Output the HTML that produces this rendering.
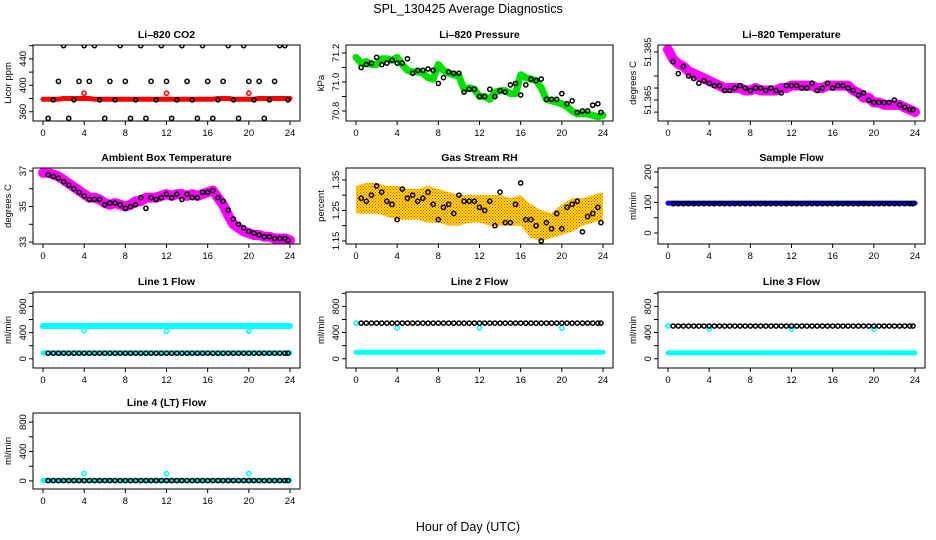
<!DOCTYPE html>
<html><head><meta charset="utf-8">
<style>
html,body{margin:0;padding:0;background:#fff;}
svg{display:block;font-family:"Liberation Sans",Arial,sans-serif;}
</style></head>
<body>
<svg id="chart" width="936" height="540" viewBox="0 0 936 540">
<defs>
<pattern id="rhpat" width="3" height="3" patternUnits="userSpaceOnUse">
<rect width="3" height="3" fill="#ffe000"/><rect x="0" y="0" width="1" height="1" fill="#f03000"/><rect x="1.5" y="1.5" width="1" height="1" fill="#f03000"/>
</pattern>
</defs>
<text x="468" y="13" text-anchor="middle" font-size="12.5">SPL_130425  Average Diagnostics</text>
<text x="468" y="531" text-anchor="middle" font-size="12.5">Hour of Day (UTC)</text>
</svg>
<script>
const HOURS=[0.5,1,1.5,2,2.5,3,3.5,4,4.5,5,5.5,6,6.5,7,7.5,8,8.5,9,9.5,10,10.5,11,11.5,12,12.5,13,13.5,14,14.5,15,15.5,16,16.5,17,17.5,18,18.5,19,19.5,20,20.5,21,21.5,22,22.5,23,23.5,23.8];
const DENSE_T=[0,0.5,1,1.5,2,2.5,3,3.5,4,4.5,5,5.5,6,6.5,7,7.5,8,8.5,9,9.5,10,10.5,11,11.5,12,12.5,13,13.5,14,14.5,15,15.5,16,16.5,17,17.5,18,18.5,19,19.5,20,20.5,21,21.5,22,22.5,23,23.5,24];
const HOURLY_T=[0,1,2,3,4,5,6,7,8,9,10,11,12,13,14,15,16,17,18,19,20,21,22,23,24];
const DIP_T=[4,12,20];
const X_TICKS=[0,4,8,12,16,20,24];

const co2Black=[350,378,406,460,350,378,406,460,406,460,378,350,406,378,460,406,350,378,460,350,406,378,460,406,350,378,460,406,378,350,460,406,350,378,406,460,378,350,460,406,378,406,350,378,406,460,460,378];
const co2Red=[379,379,379,379,380,380,380,380,380,380,379,379,379,379,379,379,379,379,379,379,379,379,379,379,379,379,379,379,379,379,379,379,379,379,380,380,380,379,379,379,379,379,380,380,380,380,380,380,380];
const co2RedDips=[388,388,388];

const presGreen=[71.17,71.13,71.14,71.12,71.12,71.16,71.16,71.15,71.17,71.12,71.08,71.07,71.07,71.06,71.03,71.02,71.12,71.08,71.06,71.05,71.04,70.95,70.96,70.95,70.90,70.90,70.88,70.93,70.94,70.94,70.92,70.92,71.05,71.03,71.02,71.01,70.96,70.88,70.87,70.86,70.85,70.83,70.80,70.78,70.78,70.78,70.77,70.76,70.77];
const presBlack=[71.10,71.12,71.13,71.17,71.12,71.13,71.15,71.13,71.13,71.16,71.06,71.08,71.08,71.09,71.08,70.99,71.03,71.07,71.06,71.06,70.93,70.95,70.95,70.90,70.90,70.95,70.90,70.94,70.93,70.98,70.99,70.91,70.98,71.02,71.01,71.02,70.88,70.88,70.88,70.92,70.85,70.87,70.79,70.80,70.80,70.84,70.85,70.79];

const tempMag=[51.386,51.382,51.380,51.379,51.377,51.376,51.375,51.374,51.373,51.372,51.371,51.370,51.370,51.370,51.370,51.369,51.369,51.370,51.369,51.369,51.369,51.369,51.370,51.370,51.371,51.371,51.371,51.371,51.371,51.370,51.370,51.371,51.371,51.371,51.371,51.371,51.369,51.368,51.366,51.366,51.364,51.364,51.363,51.363,51.363,51.363,51.362,51.361,51.360];
const tempBlack=[51.381,51.376,51.379,51.375,51.374,51.372,51.373,51.372,51.371,51.371,51.369,51.369,51.370,51.371,51.370,51.369,51.370,51.370,51.369,51.370,51.369,51.368,51.371,51.371,51.371,51.370,51.370,51.372,51.369,51.370,51.372,51.370,51.371,51.371,51.370,51.369,51.367,51.368,51.365,51.364,51.364,51.364,51.364,51.365,51.363,51.362,51.361,51.361];

const ambMag=[36.9,36.9,36.8,36.7,36.5,36.3,36.1,35.9,35.7,35.5,35.5,35.4,35.2,35.1,35.2,35.1,35.0,35.1,35.3,35.3,35.5,35.5,35.5,35.6,35.7,35.6,35.7,35.7,35.6,35.7,35.6,35.7,35.8,35.9,35.5,35.1,34.5,34.0,33.8,33.6,33.5,33.4,33.4,33.3,33.3,33.2,33.2,33.2,33.1];
const ambBlack=[36.8,36.7,36.6,36.4,36.2,36.0,35.8,35.6,35.4,35.4,35.4,35.1,35.2,35.2,35.1,34.9,35.0,35.1,35.5,34.9,35.5,35.4,35.5,35.7,35.5,35.7,35.4,35.7,35.5,35.5,35.8,35.8,35.9,35.5,35.3,34.8,34.3,34.0,33.8,33.6,33.5,33.4,33.3,33.3,33.2,33.2,33.2,33.1];

const rhUpper=[1.33,1.34,1.34,1.33,1.33,1.32,1.32,1.33,1.32,1.31,1.30,1.30,1.30,1.30,1.30,1.29,1.30,1.27,1.25,1.24,1.27,1.29,1.29,1.30,1.31];
const rhLower=[1.24,1.24,1.24,1.23,1.22,1.22,1.22,1.21,1.21,1.20,1.20,1.21,1.21,1.20,1.20,1.20,1.20,1.16,1.15,1.16,1.17,1.18,1.20,1.21,1.22];
const rhBlack=[1.29,1.28,1.30,1.33,1.31,1.28,1.27,1.22,1.32,1.29,1.30,1.28,1.29,1.31,1.27,1.22,1.26,1.27,1.24,1.30,1.28,1.28,1.28,1.26,1.25,1.28,1.20,1.31,1.21,1.21,1.27,1.34,1.22,1.22,1.20,1.15,1.21,1.19,1.24,1.19,1.26,1.27,1.28,1.18,1.23,1.24,1.26,1.21];

const sampleBlue=[98,98,98,98,98,98,98,98,98,98,98,98,98,98,98,98,98,98,98,98,98,98,98,98,98,98,98,98,98,98,98,98,98,98,98,98,98,98,98,98,98,98,98,98,98,98,98,98,98];
const sampleBlack=[96,96,96,96,96,96,96,96,96,96,96,96,96,96,96,96,96,96,96,96,96,96,96,96,96,96,96,96,96,96,96,96,96,96,96,96,96,96,96,96,96,96,96,96,96,96,96,96];

const line1CyanHigh=[500,500,500,500,500,500,500,500,500,500,500,500,500,500,500,500,500,500,500,500,500,500,500,500,500];
const line1CyanLow=[90,90,90,90,90,90,90,90,90,90,90,90,90,90,90,90,90,90,90,90,90,90,90,90,90];
const line1CyanDips=[430,420,420];
const line1Black=[85,85,85,85,85,85,85,85,85,85,85,85,85,85,85,85,85,85,85,85,85,85,85,85,85,85,85,85,85,85,85,85,85,85,85,85,85,85,85,85,85,85,85,85,85,85,85,85];

const line2CyanLow=[100,100,100,100,100,100,100,100,100,100,100,100,100,100,100,100,100,100,100,100,100,100,100,100,100];
const line2CyanDips=[470,470,470];
const line2CyanStart=[545];
const line2Black=[545,545,545,545,545,545,545,545,545,545,545,545,545,545,545,545,545,545,545,545,545,545,545,545,545,545,545,545,545,545,545,545,545,545,545,545,545,545,545,545,545,545,545,545,545,545,545,545];

const line3CyanLow=[90,90,90,90,90,90,90,90,90,90,90,90,90,90,90,90,90,90,90,90,90,90,90,90,90];
const line3CyanDips=[455,455,455];
const line3CyanStart=[500];
const line3Black=[500,500,500,500,500,500,500,500,500,500,500,500,500,500,500,500,500,500,500,500,500,500,500,500,500,500,500,500,500,500,500,500,500,500,500,500,500,500,500,500,500,500,500,500,500,500,500,500];

const line4CyanLow=[5,5,5,5,5,5,5,5,5,5,5,5,5,5,5,5,5,5,5,5,5,5,5,5,5];
const line4CyanDips=[100,100,100];
const line4Black=[5,5,5,5,5,5,5,5,5,5,5,5,5,5,5,5,5,5,5,5,5,5,5,5,5,5,5,5,5,5,5,5,5,5,5,5,5,5,5,5,5,5,5,5,5,5,5,5];

const NS="http://www.w3.org/2000/svg";
const svg=document.getElementById('chart');
const COLS=[33,346,658], ROWS=[45,168,292,413], PW=267, PH=76;

function mk(tag,attrs,parent){const e=document.createElementNS(NS,tag);for(const k in attrs)e.setAttribute(k,attrs[k]);(parent||svg).appendChild(e);return e;}

function panel(cfg){
  const L=COLS[cfg.col],T=ROWS[cfg.row];
  const g=mk('g',{});
  
  
  const xs=t=>L+10+t*(247/24);
  const ys=v=>T+PH-(v-cfg.ymin)/(cfg.ymax-cfg.ymin)*PH;
  const title=mk('text',{x:L+PW/2,y:T-7,'text-anchor':'middle','font-size':10.5,'font-weight':'bold'},g);
  title.textContent=cfg.title;
  
  
  const yl=mk('text',{transform:`translate(${L-22},${T+PH/2}) rotate(-90)`,'text-anchor':'middle','font-size':9.5},g);
  yl.textContent=cfg.ylabel;
  
  
  X_TICKS.forEach(t=>{
    mk('line',{x1:xs(t),x2:xs(t),y1:T+PH,y2:T+PH+4,stroke:'#000'},g);
    const tx=mk('text',{x:xs(t),y:T+PH+15,'text-anchor':'middle','font-size':9.5},g);
    tx.textContent=t;
    
    
  });
  cfg.yticks.forEach((v,i)=>{
    mk('line',{x1:L-4,x2:L,y1:ys(v),y2:ys(v),stroke:'#000'},g);
    const lab=cfg.ylabels[i];
    if(lab){const ty=mk('text',{transform:`translate(${L-7},${ys(v)}) rotate(-90)`,'text-anchor':'middle','font-size':9.5},g);
    ty.textContent=lab;
    
    }
  });
  const clipId='clip'+cfg.name;
  const cp=mk('clipPath',{id:clipId},g);mk('rect',{x:L,y:T,width:PW,height:PH},cp);
  const dg=mk('g',{'clip-path':`url(#${clipId})`},g);
  (cfg.bands||[]).forEach(b=>{
    let d='';b.t.forEach((t,i)=>{d+=(i?'L':'M')+xs(t)+' '+ys(b.upper[i]);});
    for(let i=b.t.length-1;i>=0;i--)d+='L'+xs(b.t[i])+' '+ys(b.lower[i]);
    const p=mk('path',{d:d+'Z',fill:b.fill,stroke:'none'},dg);
    
    
  });
  (cfg.lines||[]).forEach(s=>{
    const pts=s.t.map((t,i)=>xs(t)+','+ys(s.v[i])).join(' ');
    const p=mk('polyline',{points:pts,fill:'none',stroke:s.color,'stroke-width':s.w,'stroke-linejoin':'round','stroke-linecap':'round'},dg);
    
    
  });
  (cfg.points||[]).forEach(s=>{
    const pg=mk('g',{},dg);
    
    
    s.t.forEach((t,i)=>{mk('circle',{cx:xs(t),cy:ys(s.v[i]),r:s.r||2.1,fill:'none',stroke:s.color,'stroke-width':s.sw||1.5},pg);});
  });
  const box=mk('rect',{x:L,y:T,width:PW,height:PH,fill:'none',stroke:'#000','stroke-width':1},g);
  
  
}

const flowTicks=[0,200,400,600,800,1000], flowLabels=['0','','400','','800',''];
panel({name:'co2',title:'Li\u2013820 CO2',ylabel:'Licor ppm',col:0,row:0,ymin:346,ymax:461,yticks:[360,380,400,420,440,460],ylabels:['360','','400','','440',''],
  lines:[{name:'co2-red-series',t:DENSE_T,v:co2Red,color:'#ff0000',w:5}],
  points:[{name:'co2-red-dips',t:DIP_T,v:co2RedDips,color:'#ff0000'},{name:'co2-black-points',t:HOURS,v:co2Black,color:'#000'}]});
panel({name:'pressure',title:'Li\u2013820 Pressure',ylabel:'kPa',col:1,row:0,ymin:70.731,ymax:71.255,yticks:[70.8,70.9,71.0,71.1,71.2],ylabels:['70.8','','71.0','','71.2'],
  lines:[{name:'pressure-green-series',t:DENSE_T,v:presGreen,color:'#00e000',w:7}],
  points:[{name:'pressure-black-points',t:HOURS,v:presBlack,color:'#000'}]});
panel({name:'licor-temp',title:'Li\u2013820 Temperature',ylabel:'degrees C',col:2,row:0,ymin:51.3563,ymax:51.3879,yticks:[51.36,51.365,51.37,51.375,51.385],ylabels:['','51.365','','','51.385'],
  lines:[{name:'licor-temp-magenta-series',t:DENSE_T,v:tempMag,color:'#ff00ff',w:10}],
  points:[{name:'licor-temp-black-points',t:HOURS,v:tempBlack,color:'#000'}]});
panel({name:'ambient',title:'Ambient Box Temperature',ylabel:'degrees C',col:0,row:1,ymin:32.89,ymax:37.17,yticks:[33,34,35,36,37],ylabels:['33','','35','','37'],
  lines:[{name:'ambient-magenta-series',t:DENSE_T,v:ambMag,color:'#ff00ff',w:10}],
  points:[{name:'ambient-black-points',t:HOURS,v:ambBlack,color:'#000'}]});
panel({name:'rh',title:'Gas Stream RH',ylabel:'percent',col:1,row:1,ymin:1.140,ymax:1.389,yticks:[1.15,1.2,1.25,1.3,1.35],ylabels:['1.15','','1.25','','1.35'],
  bands:[{name:'rh-orange-band',t:HOURLY_T,upper:rhUpper,lower:rhLower,fill:'url(#rhpat)'}],
  points:[{name:'rh-black-points',t:HOURS,v:rhBlack,color:'#000'}]});
panel({name:'sample-flow',title:'Sample Flow',ylabel:'ml/min',col:2,row:1,ymin:-36,ymax:213,yticks:[0,50,100,150,200],ylabels:['0','','100','','200'],
  lines:[{name:'sample-blue-series',t:DENSE_T,v:sampleBlue,color:'#0000ff',w:5}],
  points:[{name:'sample-black-points',t:HOURS,v:sampleBlack,color:'#000'}]});
panel({name:'line1',title:'Line 1 Flow',ylabel:'ml/min',col:0,row:2,ymin:-141,ymax:1020,yticks:flowTicks,ylabels:flowLabels,
  lines:[{name:'line1-cyan-high',t:HOURLY_T,v:line1CyanHigh,color:'#00ffff',w:6},{name:'line1-cyan-low',t:HOURLY_T,v:line1CyanLow,color:'#00ffff',w:5}],
  points:[{name:'line1-cyan-dips',t:DIP_T,v:line1CyanDips,color:'#00ffff'},{name:'line1-black-points',t:HOURS,v:line1Black,color:'#000'}]});
panel({name:'line2',title:'Line 2 Flow',ylabel:'ml/min',col:1,row:2,ymin:-141,ymax:1020,yticks:flowTicks,ylabels:flowLabels,
  lines:[{name:'line2-cyan-low',t:HOURLY_T,v:line2CyanLow,color:'#00ffff',w:5}],
  points:[{name:'line2-cyan-dips',t:DIP_T,v:line2CyanDips,color:'#00ffff'},{name:'line2-cyan-start',t:[0],v:line2CyanStart,color:'#00ffff'},{name:'line2-black-points',t:HOURS,v:line2Black,color:'#000'}]});
panel({name:'line3',title:'Line 3 Flow',ylabel:'ml/min',col:2,row:2,ymin:-141,ymax:1020,yticks:flowTicks,ylabels:flowLabels,
  lines:[{name:'line3-cyan-low',t:HOURLY_T,v:line3CyanLow,color:'#00ffff',w:5}],
  points:[{name:'line3-cyan-dips',t:DIP_T,v:line3CyanDips,color:'#00ffff'},{name:'line3-cyan-start',t:[0],v:line3CyanStart,color:'#00ffff'},{name:'line3-black-points',t:HOURS,v:line3Black,color:'#000'}]});
panel({name:'line4',title:'Line 4 (LT) Flow',ylabel:'ml/min',col:0,row:3,ymin:-110,ymax:924,yticks:[0,200,400,600,800],ylabels:['0','','400','','800'],
  lines:[{name:'line4-cyan-low',t:HOURLY_T,v:line4CyanLow,color:'#00ffff',w:5}],
  points:[{name:'line4-cyan-dips',t:DIP_T,v:line4CyanDips,color:'#00ffff'},{name:'line4-black-points',t:HOURS,v:line4Black,color:'#000'}]});
</script>
</body></html>
